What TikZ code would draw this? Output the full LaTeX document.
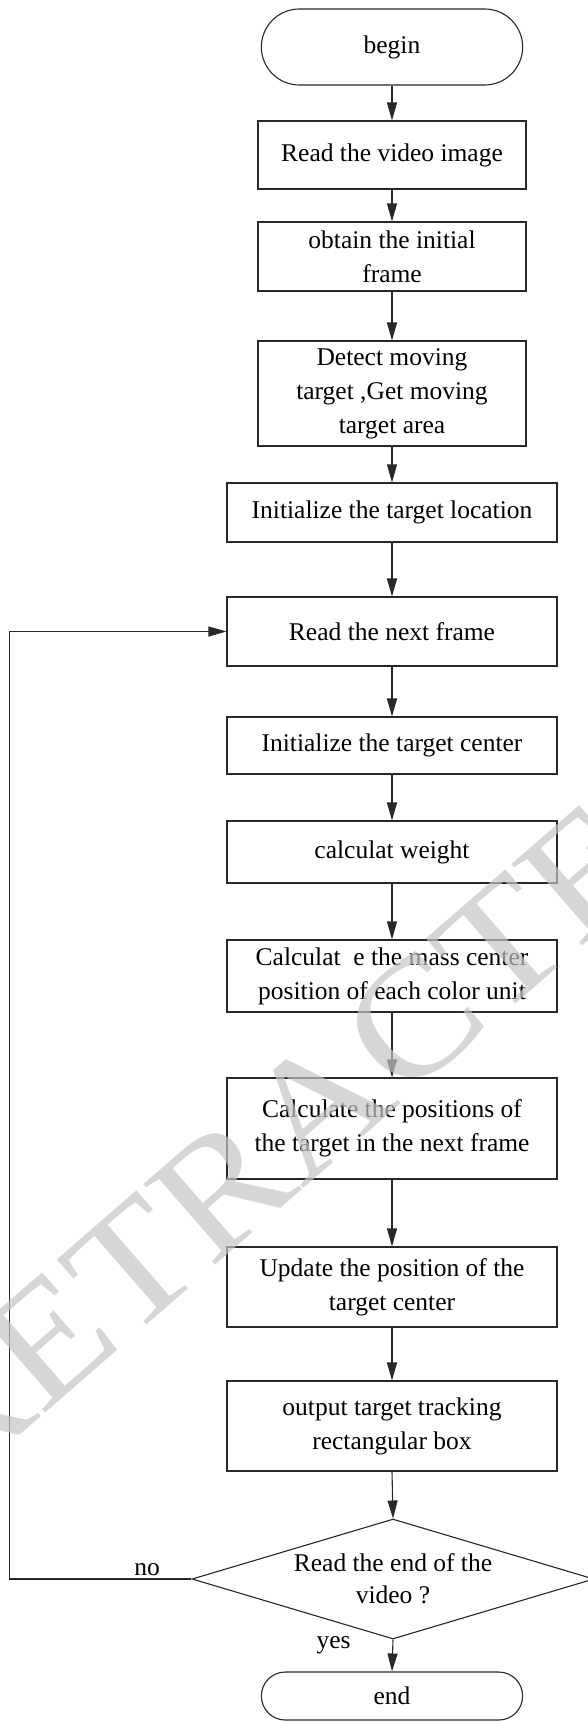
\documentclass[tikz,border=0pt]{standalone}
\usepackage{fontspec}
\setmainfont{Liberation Serif}
\usetikzlibrary{arrows.meta,shapes.geometric,shapes.misc}
\definecolor{ln}{RGB}{40,40,40}
\definecolor{wmgray}{RGB}{197,197,197}
\tikzset{
  txtfont/.style={font=\fontsize{25.5}{34}\selectfont},
  stepbox/.style={draw=ln, line width=1.1pt, rectangle, align=center, inner sep=2pt, txtfont},
  narrowbox/.style={stepbox, minimum width=268pt},
  widebox/.style={stepbox, minimum width=330pt},
  term/.style={draw=ln, line width=1.1pt, rounded rectangle, minimum width=268pt, align=center, txtfont},
  decision/.style={draw=ln, line width=1.1pt, diamond, shape aspect=3.35, inner sep=0pt, minimum width=402pt, minimum height=120pt, align=center, font=\fontsize{25.5}{32}\selectfont},
  arr/.style={draw=ln, line width=1.1pt, -{Triangle[length=18pt,width=10pt]}},
  lbl/.style={txtfont, inner sep=0pt, anchor=base},
  wm/.style={font=\fontsize{183}{183}\selectfont, text=wmgray, text opacity=0.7, inner sep=0pt},
}
\begin{document}
\begin{tikzpicture}[x=1pt, y=-1pt]
\useasboundingbox (0,0) rectangle (588,1722);
\fill[white] (0,0) rectangle (588,1722);
\clip (0,0) rectangle (588,1722);

\node[term, minimum height=76pt] (start) at (392,47) {begin};
\node[narrowbox, minimum height=68pt] (b1) at (392,155) {Read the video image};
\node[narrowbox, minimum height=69pt] (b2) at (392,256.5) {obtain the initial\\frame};
\node[narrowbox, minimum height=105pt] (b3) at (392,393.5) {Detect moving\\target ,Get moving\\target area};
\node[widebox, minimum height=59pt] (b4) at (392,512.5) {Initialize the target location};
\node[widebox, minimum height=69pt] (b5) at (392,631.5) {Read the next frame};
\node[widebox, minimum height=57pt] (b6) at (392,745.5) {Initialize the target center};
\node[widebox, minimum height=62pt] (b7) at (392,852) {calculat weight};
\node[widebox, minimum height=72pt] (b8) at (392,976) {Calculat\ \ e the mass center\\position of each color unit};
\node[widebox, minimum height=101pt] (b9) at (392,1128.5) {Calculate the positions of\\the target in the next frame};
\node[widebox, minimum height=80pt] (b10) at (392,1287) {Update the position of the\\target center};
\node[widebox, minimum height=90pt] (b11) at (392,1426) {output target tracking\\rectangular box};
\node[decision] (dia) at (393,1579) {Read the end of the\\video ?};
\node[term, minimum height=48pt] (stop) at (392,1696) {end};

\node[lbl] (no) at (147,1575) {no};
\node[lbl] (yes) at (333.5,1648) {yes};

\coordinate (lx) at (9.4,1579);

\draw[arr] (start.south) -- (b1.north);
\draw[arr] (b1.south) -- (b2.north);
\draw[arr] (b2.south) -- (b3.north);
\draw[arr] (b3.south) -- (b4.north);
\draw[arr] (b4.south) -- (b5.north);
\draw[arr] (b5.south) -- (b6.north);
\draw[arr] (b6.south) -- (b7.north);
\draw[arr] (b7.south) -- (b8.north);
\draw[arr] (b8.south) -- (b9.north);
\draw[arr] (b9.south) -- (b10.north);
\draw[arr] (b10.south) -- (b11.north);
\draw[arr] (b11.south) -- (dia.north);
\draw[arr] (dia.south) -- (stop.north);
\draw[arr] (dia.west) -- (lx) |- (b5.west);

\node[wm, rotate=41, yscale=0.9, anchor=base] (wmark) at (356,1143) {RETRACTED};
\end{tikzpicture}
\end{document}
